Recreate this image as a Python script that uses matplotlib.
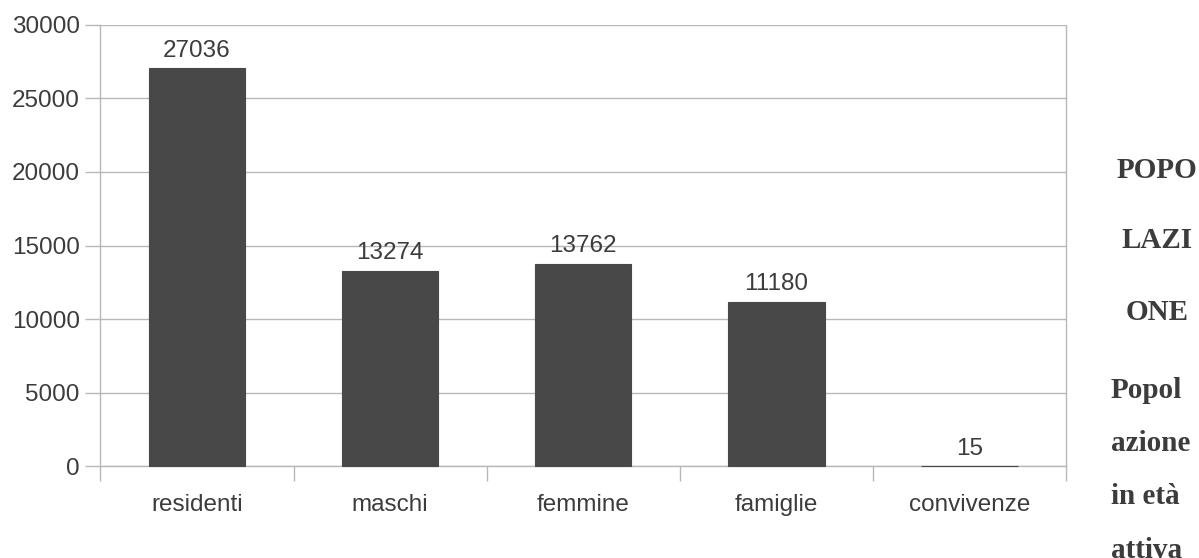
import matplotlib.pyplot as plt
import numpy as np

categorie = ["residenti", "maschi", "femmine", "famiglie", "convivenze"]
valori = [27036, 13274, 13762, 11180, 15]
testo_alto = ["POPO", "LAZI", "ONE"]
testo_basso = ["Popol", "azione", "in età", "attiva"]

grigio = "#b8b8b8"
testo = "#3c3c3c"

plt.rcParams['font.family'] = ['Liberation Sans', 'DejaVu Sans']

fig = plt.figure(figsize=(11.99, 5.58), dpi=100)
ax = fig.add_axes([0.0838, 0.164, 0.8052, 0.792])

x = np.arange(len(categorie))
barre = ax.bar(x, valori, width=0.5, color="#484848", edgecolor="#484848",
               linewidth=0.8, zorder=3)
for b in barre:
    b.set_clip_on(False)
for xi, v in zip(x, valori):
    ax.text(xi, v + 450, str(v), ha="center", va="bottom", fontsize=17.5, color=testo)

ax.set_xlim(-0.5, len(categorie) - 0.5)
ax.set_ylim(0, 30000)
ax.set_yticks(range(0, 30001, 5000))
ax.yaxis.grid(True, color=grigio, lw=1, zorder=0)

ax.set_xticks(x)
ax.set_xticklabels(categorie)
ax.set_xticks(np.arange(-0.5, len(categorie), 1), minor=True)
ax.tick_params(axis="x", which="major", length=0, pad=20, labelsize=17.5, labelcolor=testo)
ax.tick_params(axis="x", which="minor", length=11, color=grigio, width=1)
ax.tick_params(axis="y", length=11, color=grigio, width=1, pad=4, labelsize=17.5, labelcolor=testo)

for s in ["left", "right", "bottom"]:
    ax.spines[s].set_color(grigio)
    ax.spines[s].set_linewidth(1)
ax.spines["top"].set_visible(False)

# testo a destra
for i, t in enumerate(testo_alto):
    fig.text(1157 / 1199, 1 - (170 + 71 * i) / 558, t, ha="center", va="center",
             fontsize=21, fontweight="bold", color=testo, family="Liberation Serif")
for i, t in enumerate(testo_basso):
    fig.text(1111 / 1199, 1 - (390 + 53.5 * i) / 558, t, ha="left", va="center",
             fontsize=21, fontweight="bold", color=testo, family="Liberation Serif")

fig.savefig("out.png", dpi=100)
